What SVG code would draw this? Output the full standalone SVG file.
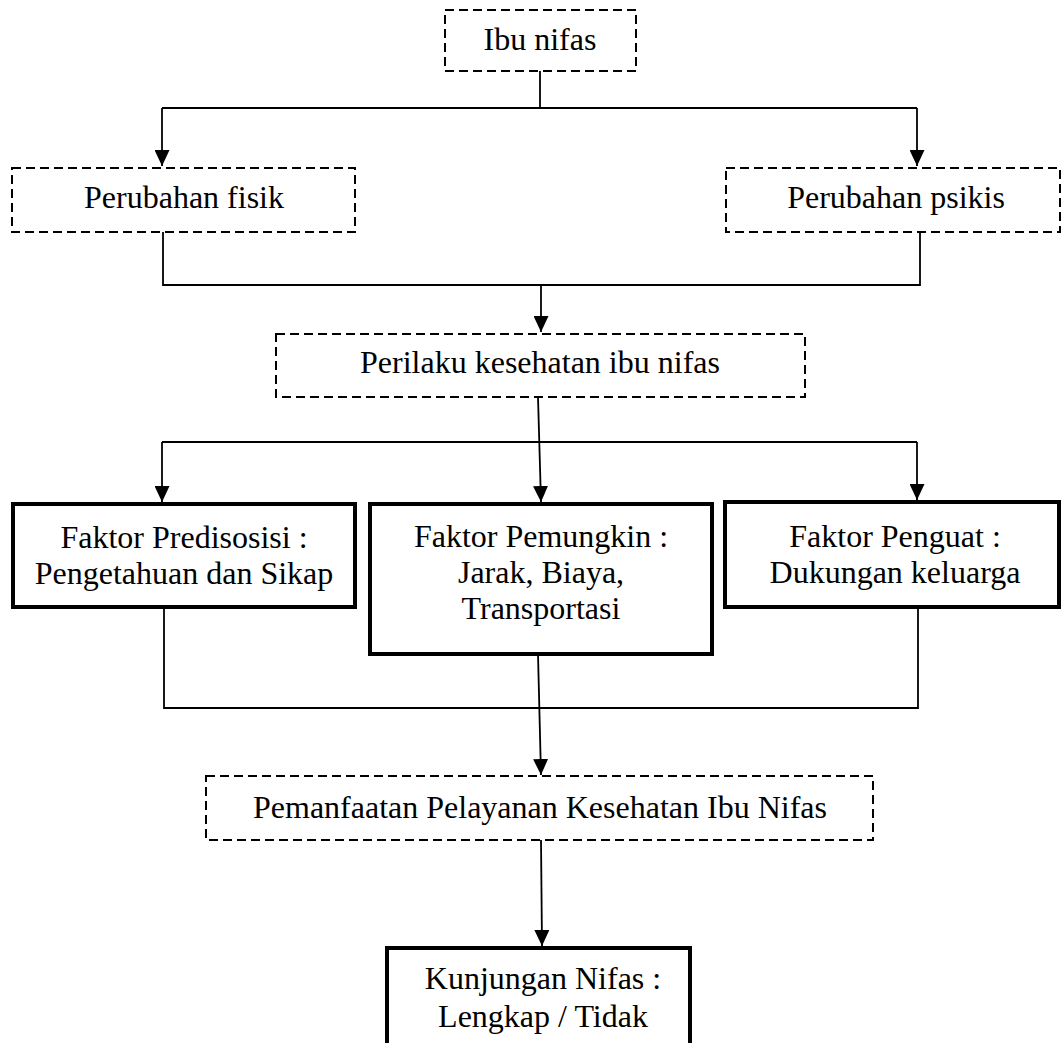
<svg xmlns="http://www.w3.org/2000/svg" width="1062" height="1043" viewBox="0 0 1062 1043">
<style>
text{font-family:"Liberation Serif","Times New Roman",serif;font-size:32px;fill:#000;text-anchor:middle}
.dash{fill:#fff;stroke:#000;stroke-width:2;stroke-dasharray:9 5}
.solid{fill:#fff;stroke:#000;stroke-width:4}
.c{fill:none;stroke:#000;stroke-width:1.8}
</style>
<defs>
<marker id="ah" markerWidth="16" markerHeight="15" refX="16" refY="7.5" orient="auto" markerUnits="userSpaceOnUse" viewBox="0 0 16 15">
<path d="M0,0 L16,7.5 L0,15 Z" fill="#000"/>
</marker>
</defs>
<rect width="1062" height="1043" fill="#fff"/>
<g id="connectors">
<path class="c" d="M540,71 V108 M162,108 H917 M163,232 V285 H920 V232 M162,442 H917 M164,608 V708 H918 V607"/>
<line class="c" x1="162" y1="108" x2="162" y2="166" marker-end="url(#ah)"/>
<line class="c" x1="917" y1="108" x2="917" y2="166" marker-end="url(#ah)"/>
<line class="c" x1="541" y1="285" x2="541" y2="332" marker-end="url(#ah)"/>
<line class="c" x1="538" y1="397" x2="541" y2="502" marker-end="url(#ah)"/>
<line class="c" x1="162" y1="442" x2="162" y2="502" marker-end="url(#ah)"/>
<line class="c" x1="917" y1="442" x2="917" y2="500" marker-end="url(#ah)"/>
<line class="c" x1="538" y1="654" x2="541" y2="775" marker-end="url(#ah)"/>
<line class="c" x1="541" y1="840" x2="542" y2="946" marker-end="url(#ah)"/>
</g>
<g id="n-ibu">
<rect class="dash" x="445" y="10" width="191" height="61"/>
<text x="540" y="50">Ibu nifas</text>
</g>
<g id="n-fisik">
<rect class="dash" x="12" y="168" width="343" height="64"/>
<text x="184" y="208">Perubahan fisik</text>
</g>
<g id="n-psikis">
<rect class="dash" x="726" y="168" width="334" height="64"/>
<text x="896" y="208">Perubahan psikis</text>
</g>
<g id="n-perilaku">
<rect class="dash" x="276" y="334" width="529" height="63"/>
<text x="540" y="373">Perilaku kesehatan ibu nifas</text>
</g>
<g id="n-predisposisi">
<rect class="solid" x="13" y="504" width="342" height="103"/>
<text x="184" y="548">Faktor Predisosisi :</text>
<text x="184" y="584">Pengetahuan dan Sikap</text>
</g>
<g id="n-pemungkin">
<rect class="solid" x="370" y="504" width="342" height="150"/>
<text x="541" y="547">Faktor Pemungkin :</text>
<text x="541" y="583">Jarak, Biaya,</text>
<text x="541" y="619">Transportasi</text>
</g>
<g id="n-penguat">
<rect class="solid" x="725" y="502" width="334" height="105"/>
<text x="895" y="547">Faktor Penguat :</text>
<text x="895" y="583">Dukungan keluarga</text>
</g>
<g id="n-pemanfaatan">
<rect class="dash" x="206" y="776" width="667" height="64"/>
<text x="540" y="818">Pemanfaatan Pelayanan Kesehatan Ibu Nifas</text>
</g>
<g id="n-kunjungan">
<rect class="solid" x="387" y="948" width="303" height="110"/>
<text x="543" y="989">Kunjungan Nifas :</text>
<text x="543" y="1027">Lengkap / Tidak</text>
</g>
</svg>
